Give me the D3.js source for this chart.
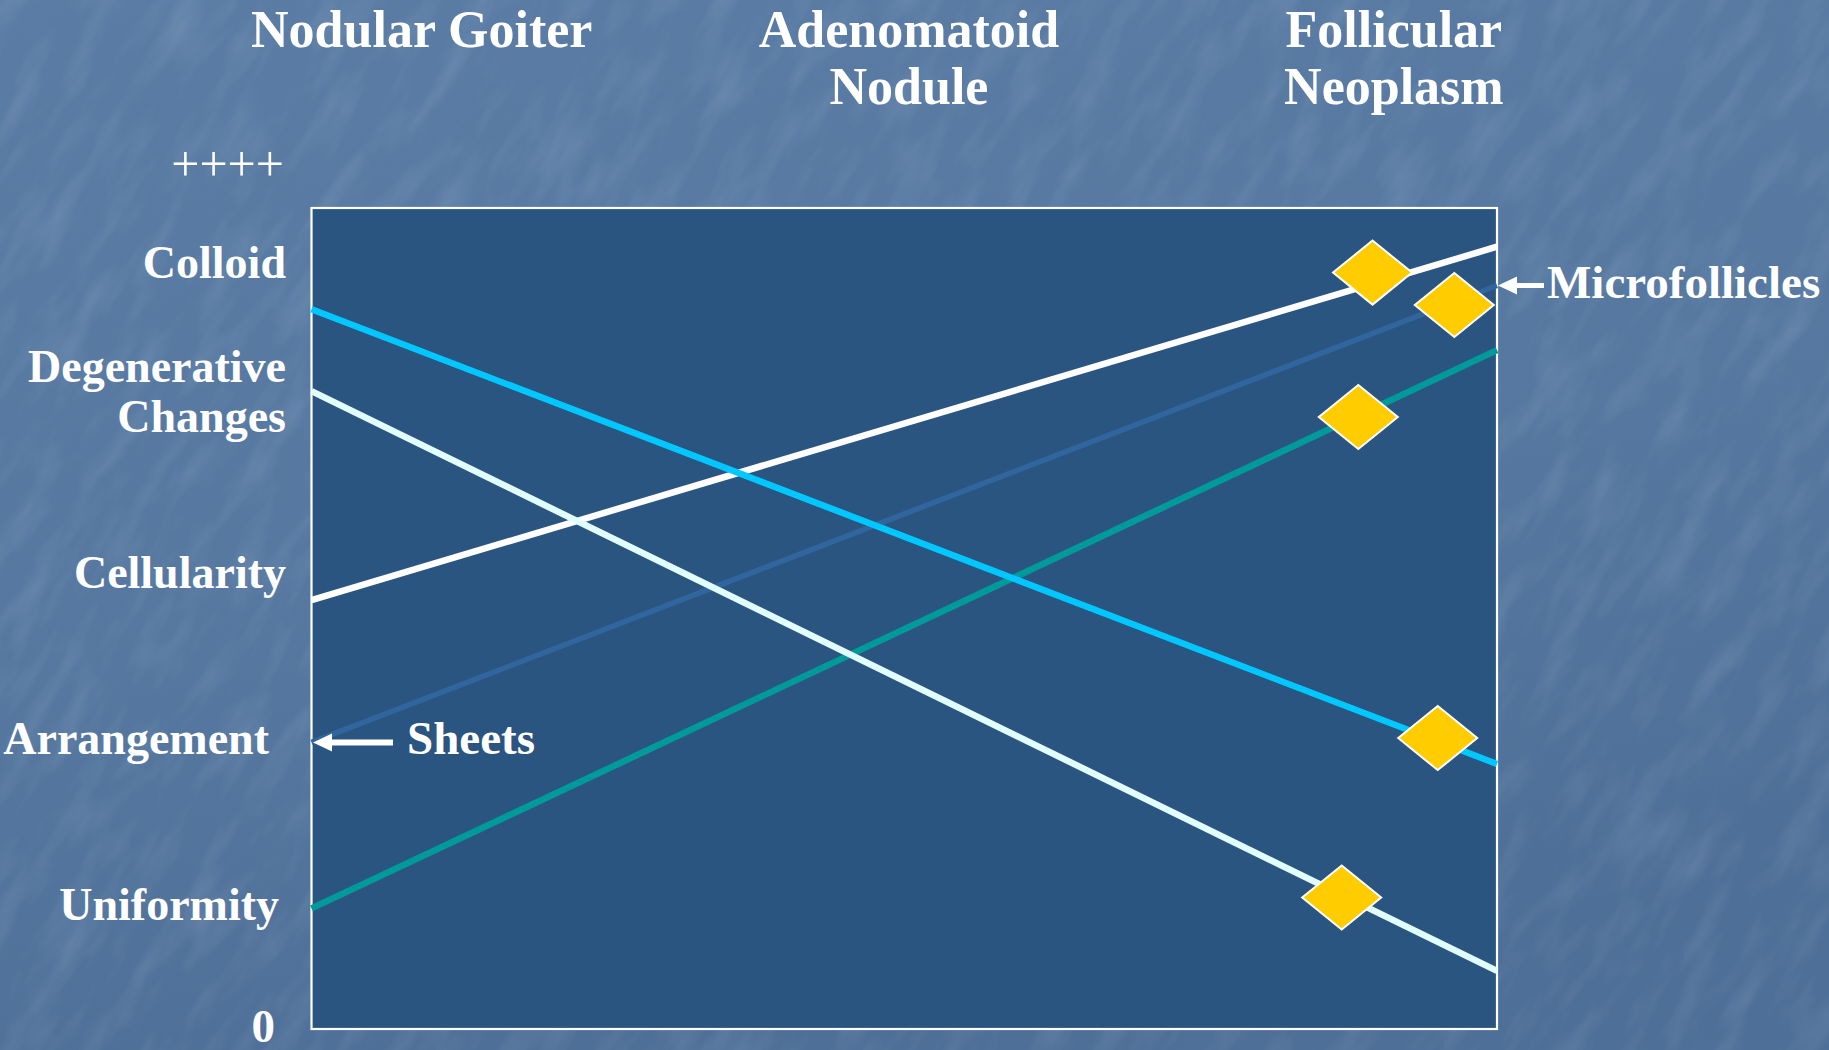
<!DOCTYPE html>
<html>
<head>
<meta charset="utf-8">
<script src="https://cdn.jsdelivr.net/npm/d3@7"></script>
<style>
  html, body { margin: 0; padding: 0; background: #567aa3; }
  svg { display: block; }
  text { font-family: "Liberation Serif", "Times New Roman", serif; fill: #ffffff; }
</style>
</head>
<body>
<script>
// Column headings (one entry per column, split into lines)
const headers = [["Nodular Goiter"], ["Adenomatoid", "Nodule"], ["Follicular", "Neoplasm"]];
const headerPositions = [0.093, 0.504, 0.913];

// Feature labels along the left side and the scale end labels
const featureLabels = [["Colloid"], ["Degenerative", "Changes"], ["Cellularity"], ["Arrangement"], ["Uniformity"]];
const featureLabelValues = [3.56, 2.96, 2.12, 1.35, 0.58];
const scaleEndLabels = ["0", "++++"];
const scaleEndValues = [0, 4];

// Each feature runs from nodular goiter (left edge) to follicular neoplasm (right edge)
const seriesNames = ["Colloid", "Degenerative Changes", "Cellularity", "Arrangement", "Uniformity"];
const goiterValues = [3.34, 2.96, 1.99, 1.33, 0.56];
const neoplasmValues = [1.23, 0.27, 3.63, 3.45, 3.15];
const seriesColors = ["#00c8ff", "#e2ffff", "#ffffff", "#30659d", "#009a9a"];

// Yellow diamond markers showing where follicular neoplasm falls on each line
const markerPositions = [0.950, 0.869, 0.895, 0.964, 0.883];
const markerValues = [1.35, 0.61, 3.51, 3.36, 2.84];

// Callouts at the two ends of the arrangement line
const callouts = [{ text: "Sheets", at: 0, value: 1.33 },
                  { text: "Microfollicles", at: 1, value: 3.45 }];

const W = 1829, H = 1050;
const box = { left: 311.5, right: 1497, top: 208, bottom: 1029 };

const svg = d3.select("body").append("svg").attr("width", W).attr("height", H);
const defs = svg.append("defs");

// Background: blue slate with soft mottling and faint diagonal streaks
const bg = defs.append("linearGradient").attr("id", "bgGrad")
  .attr("x1", 0).attr("y1", 0).attr("x2", 0.3).attr("y2", 1);
bg.append("stop").attr("offset", 0).attr("stop-color", "#5a7ca5");
bg.append("stop").attr("offset", 0.6).attr("stop-color", "#5678a0");
bg.append("stop").attr("offset", 1).attr("stop-color", "#4e6f98");

const streak = defs.append("filter").attr("id", "streaks")
  .attr("x", 0).attr("y", 0).attr("width", 1).attr("height", 1);
streak.append("feTurbulence").attr("type", "fractalNoise")
  .attr("baseFrequency", "0.012 0.04").attr("numOctaves", 4).attr("seed", 11);
streak.append("feColorMatrix").attr("type", "matrix")
  .attr("values", "0 0 0 0 1  0 0 0 0 1  0 0 0 0 1  1.6 0 0 0 -0.7");
streak.append("feGaussianBlur").attr("stdDeviation", 0.8);

const mottle = defs.append("filter").attr("id", "mottle")
  .attr("x", 0).attr("y", 0).attr("width", 1).attr("height", 1);
mottle.append("feTurbulence").attr("type", "fractalNoise")
  .attr("baseFrequency", "0.006 0.012").attr("numOctaves", 3).attr("seed", 4);
mottle.append("feColorMatrix").attr("type", "matrix")
  .attr("values", "0 0 0 0 0.1  0 0 0 0 0.2  0 0 0 0 0.35  0 -1.4 0 0 0.85");

svg.append("rect").attr("width", W).attr("height", H).attr("fill", "url(#bgGrad)");
const tex = svg.append("g").attr("transform", `translate(${W / 2},${H / 2}) rotate(-58)`);
tex.append("rect").attr("x", -1300).attr("y", -1300).attr("width", 2600).attr("height", 2600)
  .attr("filter", "url(#mottle)").attr("opacity", 0.22);
tex.append("rect").attr("x", -1300).attr("y", -1300).attr("width", 2600).attr("height", 2600)
  .attr("filter", "url(#streaks)").attr("opacity", 0.12);

// Scales
const x = d3.scaleLinear().domain([0, 1]).range([box.left, box.right]);
const y = d3.scaleLinear().domain([0, 4]).range([1029, 167]);

// Plot panel
svg.append("rect")
  .attr("x", box.left).attr("y", box.top)
  .attr("width", box.right - box.left).attr("height", box.bottom - box.top)
  .attr("fill", "#2b5581").attr("stroke", "#ffffff").attr("stroke-width", 2.2);

// Column headings
const hdr = svg.append("g").attr("font-weight", "bold").attr("font-size", 52);
headers.forEach((lines, i) => {
  const t = hdr.append("text").attr("text-anchor", "middle")
    .attr("x", x(headerPositions[i])).attr("y", 47);
  lines.forEach((ln, j) => t.append("tspan").attr("x", x(headerPositions[i])).attr("dy", j === 0 ? 0 : 57).text(ln));
});

// Feature labels on the left
const labelRight = 286;
const labelNudge = { "Arrangement": -17, "Uniformity": -7 };
const lab = svg.append("g").attr("font-weight", "bold").attr("font-size", 46);
featureLabels.forEach((lines, i) => {
  const cy = y(featureLabelValues[i]);
  const lh = 50;
  const t = lab.append("text").attr("text-anchor", "end").attr("dominant-baseline", "central");
  lines.forEach((ln, j) => {
    t.append("tspan")
      .attr("x", labelRight + (labelNudge[ln] || 0))
      .attr("y", cy + (j - (lines.length - 1) / 2) * lh)
      .text(ln);
  });
});

// Scale end labels
lab.append("text").attr("text-anchor", "end").attr("dominant-baseline", "central")
  .attr("x", 275).attr("y", y(scaleEndValues[0]) - 3).attr("font-size", 47).text(scaleEndLabels[0]);
svg.append("text").attr("text-anchor", "end").attr("dominant-baseline", "central")
  .attr("x", 284).attr("y", y(scaleEndValues[1]) - 3).attr("font-size", 50).text(scaleEndLabels[1]);

// Feature lines
const lineGen = d3.line().x(d => x(d[0])).y(d => y(d[1]));
const lines = svg.append("g").attr("fill", "none").attr("stroke-linecap", "butt");
const drawOrder = [3, 4, 2, 1, 0];
drawOrder.forEach(i => {
  lines.append("path")
    .attr("d", lineGen([[0, goiterValues[i]], [1, neoplasmValues[i]]]))
    .attr("stroke", seriesColors[i])
    .attr("stroke-width", i === 3 ? 5.5 : 6.5);
});

// Diamond markers
const halfW = 39.5, halfH = 32;
svg.append("g").selectAll("path").data(seriesNames).join("path")
  .attr("d", (d, i) => {
    const cx = x(markerPositions[i]), cy = y(markerValues[i]);
    return `M${cx},${cy - halfH}L${cx + halfW},${cy}L${cx},${cy + halfH}L${cx - halfW},${cy}Z`;
  })
  .attr("fill", "#ffcc00").attr("stroke", "#ffffff").attr("stroke-width", 2);

// Callout arrows and labels
const call = svg.append("g");
callouts.forEach(c => {
  const tipX = c.at === 0 ? x(0) + 1.5 : x(1) + 1;
  const cy = y(c.value);
  const len = c.at === 0 ? 80 : 46;
  const head = 19, hh = 9;
  call.append("line")
    .attr("x1", tipX + head - 2).attr("x2", tipX + len)
    .attr("y1", cy).attr("y2", cy)
    .attr("stroke", "#ffffff").attr("stroke-width", c.at === 0 ? 6 : 5);
  call.append("path")
    .attr("d", `M${tipX},${cy}L${tipX + head},${cy - hh}L${tipX + head},${cy + hh}Z`)
    .attr("fill", "#ffffff");
  call.append("text")
    .attr("x", tipX + len + (c.at === 0 ? 14 : 3)).attr("y", cy - 4)
    .attr("dominant-baseline", "central")
    .attr("font-weight", "bold").attr("font-size", 47)
    .text(c.text);
});
</script>
</body>
</html>
